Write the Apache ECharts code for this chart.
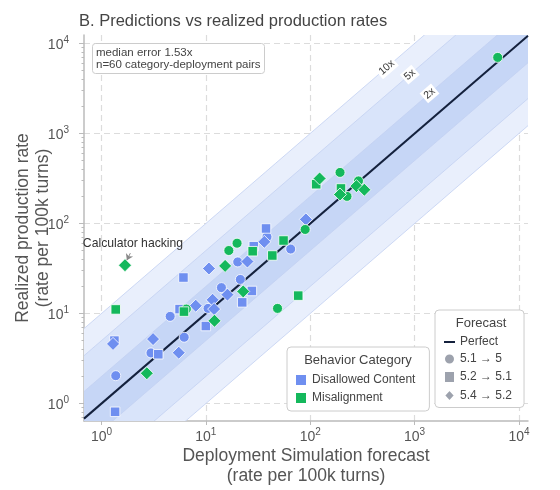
<!DOCTYPE html>
<html lang="en">
<head>
<meta charset="UTF-8">
<title>Predictions vs realized production rates</title>
<script src="https://cdn.jsdelivr.net/npm/echarts@6/dist/echarts.min.js"></script>
<style>
    html, body { margin: 0; padding: 0; background: #fff; }
    #chart { width: 560px; height: 490px; }
</style>
</head>
<body>
<div id="chart"></div>
<script>
// axis range, rate per 100k turns (log scale)
var xRange = [0.68, 12200];
var yRange = [0.64, 12400];
var decadeTicks = [1, 10, 100, 1000, 10000];

// error bands around the perfect line, widest first
var bandFactors = [10, 5, 2];
var bandLabels = ['10x', '5x', '2x'];

// [forecast, realized] per behavior category and forecast version
// Disallowed Content
var dcCircle = [[38.5, 71], [65, 52], [20.2, 37.4], [21.4, 23.9], [14.1, 19.4], [10.5, 11.4], [4.55, 9.3], [6.2, 5.45], [2.98, 3.65], [1.37, 2.04]];
var dcSquare = [[37.7, 88], [28.8, 56], [6.1, 25.1], [27.6, 17.8], [22.3, 13.3], [5.6, 11.2], [10, 7.26], [1.33, 5.0], [3.5, 3.53], [1.35, 0.81]];
var dcDiamond = [[90.8, 111], [36.3, 62.5], [25, 37.8], [10.7, 31.6], [16.1, 16.2], [11.6, 14.2], [8.0, 12.2], [12, 11.2], [3.12, 5.2], [5.5, 3.67], [1.29, 4.6]];
// Misalignment
var maCircle = [[6250, 6990], [193, 369], [290, 297], [225, 200], [89.4, 85.8], [19.9, 60.4], [16.6, 50.1], [48.6, 11.4], [6.5, 11.2]];
var maSquare = [[114, 273], [197, 245], [55.5, 64.7], [28.1, 49.2], [43.3, 44.1], [76.7, 15.8], [6.17, 10.5], [1.37, 11.1]];
var maDiamond = [[123, 316], [277, 260], [330, 237], [193, 210], [15.3, 33.8], [22.8, 17.6], [12.1, 8.3], [2.72, 2.17], [1.68, 34.4]];
var calcHackIdx = 8; // index in maDiamond

var categories = ['Disallowed Content', 'Misalignment'];
var forecasts = ['5.1 \u2192 5', '5.2 \u2192 5.1', '5.4 \u2192 5.2'];

var perfectLine = [[xRange[0], xRange[0]], [xRange[1], xRange[1]]];

var minorTicks = [];
[0.1, 1, 10, 100, 1000, 10000].forEach(function (d) {
    for (var m = 2; m <= 9; m++) {
        if (d * m > yRange[0] && d * m < yRange[1]) minorTicks.push(d * m);
    }
});

var FONT = '"Liberation Sans", Arial, sans-serif';
var BLUE = '#6f8ff0';
var GREEN = '#14b85c';
var GRAY = '#9da2ad';
var NAVY = '#14213d';
var bandColors = ['#e9effc', '#d9e4fa', '#c6d6f6'];

function supLabel(v) {
    return '{b|10}{s|' + Math.round(Math.log10(v)) + '}';
}
var supRich = {
    b: { fontSize: 14, color: '#555', fontFamily: FONT, verticalAlign: 'bottom' },
    s: { fontSize: 10, color: '#555', fontFamily: FONT, verticalAlign: 'bottom', padding: [0, 0, 7, 0] }
};

function scatter(name, color, symbol, size, data) {
    return {
        name: name,
        type: 'scatter',
        symbol: symbol,
        symbolSize: size,
        z: 4,
        itemStyle: { color: color, borderColor: '#fff', borderWidth: 0.8, opacity: 1 },
        data: data
    };
}

var calcData = maDiamond.map(function (p, i) {
    if (i !== calcHackIdx) return p;
    return {
        value: p,
        label: {
            show: true, formatter: 'Calculator hacking', position: 'top', distance: 9, offset: [8, 0],
            color: '#333', fontSize: 12.2, fontFamily: FONT
        }
    };
});

var maDiamondSeries = scatter(categories[1], GREEN, 'diamond', 13, calcData);
maDiamondSeries.markLine = {
    silent: true,
    symbol: ['none', 'arrow'],
    symbolSize: 6,
    label: { show: false },
    lineStyle: { color: '#888', width: 1, type: 'solid' },
    data: [[{ coord: [1.89, 46.8] }, { coord: [1.75, 39.1] }]]
};

var gridLines = [];
decadeTicks.forEach(function (v) {
    gridLines.push({ xAxis: v });
    gridLines.push({ yAxis: v });
});

var chart = echarts.init(document.getElementById('chart'));

var option = {
    animation: false,
    textStyle: { fontFamily: FONT },
    title: [{
        text: 'B. Predictions vs realized production rates',
        left: 79, top: 13, padding: 0,
        textStyle: { fontSize: 16.5, fontWeight: 'normal', color: '#444', fontFamily: FONT }
    }, {
        text: 'median error 1.53x\nn=60 category-deployment pairs',
        left: 92, top: 43,
        padding: [4, 4, 3, 4],
        backgroundColor: '#fff', borderColor: '#ccc', borderWidth: 1, borderRadius: 3,
        textStyle: { fontSize: 11.5, lineHeight: 12, fontWeight: 'normal', color: '#444', fontFamily: FONT }
    }, {
        text: 'Behavior Category',
        left: 358, top: 354, textAlign: 'center', padding: 0,
        textStyle: { fontSize: 13, fontWeight: 'normal', color: '#444', fontFamily: FONT }
    }, {
        text: 'Forecast',
        left: 481, top: 317, textAlign: 'center', padding: 0,
        textStyle: { fontSize: 13, fontWeight: 'normal', color: '#444', fontFamily: FONT }
    }],
    legend: [{
        data: [{ name: categories[0], icon: 'rect' }, { name: categories[1], icon: 'rect' }],
        orient: 'vertical',
        left: 287, top: 347,
        padding: [26, 14, 6, 7],
        itemWidth: 12, itemHeight: 12, itemGap: 4,
        selectedMode: false,
        backgroundColor: '#fff', borderColor: '#ccc', borderWidth: 1, borderRadius: 4,
        textStyle: { fontSize: 12, color: '#444', fontFamily: FONT }
    }, {
        data: [
            { name: 'Perfect', icon: 'path://M0,0L12,0L12,2.2L0,2.2Z' },
            { name: forecasts[0], icon: 'circle' },
            { name: forecasts[1], icon: 'rect' },
            { name: forecasts[2], icon: 'diamond' }
        ],
        orient: 'vertical',
        left: 435, top: 310,
        padding: [26, 12, 5, 8],
        itemWidth: 11, itemHeight: 12, itemGap: 4.5,
        symbolKeepAspect: true,
        selectedMode: false,
        backgroundColor: '#fff', borderColor: '#ccc', borderWidth: 1, borderRadius: 4,
        textStyle: { fontSize: 12, color: '#444', fontFamily: FONT }
    }],
    grid: { left: 84, right: 32, top: 35, bottom: 69, containLabel: false, outerBoundsMode: 'none' },
    xAxis: {
        type: 'log', logBase: 10, min: xRange[0], max: xRange[1],
        axisLine: { show: true, lineStyle: { color: '#bbb', width: 1.5 } },
        axisTick: { show: true, customValues: decadeTicks, length: 4, lineStyle: { color: '#bbb' } },
        axisLabel: { customValues: decadeTicks, formatter: supLabel, rich: supRich, margin: 6 },
        splitLine: { show: false },
        name: 'Deployment Simulation forecast\n(rate per 100k turns)',
        nameLocation: 'middle', nameGap: 25, nameMoveOverlap: false,
        nameTextStyle: { fontSize: 17.5, color: '#555', lineHeight: 20, fontFamily: FONT }
    },
    yAxis: [{
        type: 'log', logBase: 10, min: yRange[0], max: yRange[1],
        axisLine: { show: true, lineStyle: { color: '#bbb', width: 1.5 } },
        axisTick: { show: true, customValues: decadeTicks, length: 5, lineStyle: { color: '#bbb' } },
        axisLabel: { customValues: decadeTicks, formatter: supLabel, rich: supRich, margin: 15 },
        splitLine: { show: false },
        name: 'Realized production rate\n(rate per 100k turns)',
        nameLocation: 'middle', nameGap: 31, nameMoveOverlap: false,
        nameTextStyle: { fontSize: 17.5, color: '#555', lineHeight: 20, fontFamily: FONT }
    }, {
        type: 'log', logBase: 10, min: yRange[0], max: yRange[1], position: 'left',
        axisLine: { show: false },
        axisTick: { show: true, customValues: minorTicks, length: 2.5, lineStyle: { color: '#bbb' } },
        axisLabel: { show: false },
        splitLine: { show: false }
    }],
    series: [{
        // dashed decade grid, under the bands
        type: 'scatter', data: [], z: 0, silent: true,
        markLine: {
            silent: true, symbol: 'none', z: 0,
            label: { show: false },
            lineStyle: { color: '#dcdcdc', width: 1.2, type: [6, 4] },
            data: gridLines
        }
    }, {
        type: 'custom', z: 1, clip: true, silent: true,
        data: bandFactors.map(function (k) { return [k]; }),
        renderItem: function (params, api) {
            var k = api.value(0);
            var i = params.dataIndex;
            var lo = 0.01, hi = 1e6;
            var pts = [
                api.coord([lo, lo * k]), api.coord([hi, hi * k]),
                api.coord([hi, hi / k]), api.coord([lo, lo / k])
            ];
            var at = [540, 900, 1390][i];
            var a = api.coord([at, at * k]);
            var b = api.coord([at * 2, at * 2 * k]);
            var ang = -Math.atan2(b[1] - a[1], b[0] - a[0]);
            return {
                type: 'group',
                children: [{
                    type: 'polygon',
                    shape: { points: pts },
                    style: { fill: bandColors[i], stroke: '#c3d1f1', lineWidth: 0.8 }
                }, {
                    type: 'text', x: a[0], y: a[1], rotation: ang, z2: 10,
                    style: {
                        text: bandLabels[i], fill: '#333', fontSize: 10.5, fontFamily: FONT,
                        align: 'center', verticalAlign: 'middle',
                        backgroundColor: '#fff', padding: [1, 2]
                    }
                }]
            };
        }
    }, {
        name: 'Perfect',
        type: 'line', z: 3, silent: true,
        symbol: 'none', showSymbol: false,
        lineStyle: { color: NAVY, width: 2 },
        itemStyle: { color: NAVY },
        data: perfectLine
    },
        scatter(categories[0], BLUE, 'circle', 10, dcCircle),
        scatter(categories[0], BLUE, 'rect', 9.5, dcSquare),
        scatter(categories[0], BLUE, 'diamond', 13, dcDiamond),
        scatter(categories[1], GREEN, 'circle', 10, maCircle),
        scatter(categories[1], GREEN, 'rect', 9.5, maSquare),
        maDiamondSeries,
        scatter(forecasts[0], GRAY, 'circle', 10, []),
        scatter(forecasts[1], GRAY, 'rect', 10, []),
        scatter(forecasts[2], GRAY, 'diamond', 12, [])
    ]
};

chart.setOption(option);
</script>
</body>
</html>
